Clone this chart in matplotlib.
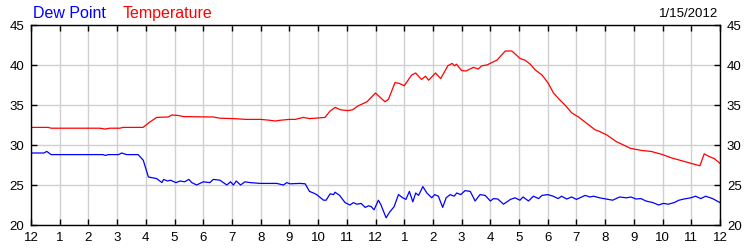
import matplotlib
matplotlib.use("Agg")
import matplotlib.pyplot as plt

# hours since midnight
temp_hours = [0, 0.6, 0.7, 2.4, 2.58, 2.75, 3.1, 3.2, 3.9, 4.15, 4.38, 4.78, 4.9, 5.1, 5.33,
              6.35, 6.58, 7.05, 7.5, 8.0, 8.3, 8.5, 8.7, 9.0, 9.2, 9.49, 9.7, 9.9, 10.24,
              10.42, 10.6, 10.78, 11.04, 11.2, 11.4, 11.7, 12.0, 12.33, 12.45, 12.68, 12.83,
              13.0, 13.26, 13.4, 13.6, 13.74, 13.85, 14.09, 14.27, 14.52, 14.67, 14.75, 14.82,
              15.0, 15.15, 15.41, 15.58, 15.7, 15.88, 16.05, 16.23, 16.52, 16.75, 17.04, 17.21,
              17.39, 17.56, 17.8, 18.02, 18.2, 18.43, 18.6, 18.84, 19.07, 19.36, 19.65, 19.8,
              20.06, 20.4, 20.64, 20.87, 21.0, 21.3, 21.6, 22.0, 22.3, 22.6, 22.9, 23.1, 23.3,
              23.45, 23.6, 23.8, 23.9, 24.0]
temperature = [32.2, 32.2, 32.1, 32.1, 32.0, 32.1, 32.1, 32.2, 32.2, 32.9, 33.45, 33.5, 33.75, 33.7, 33.55,
               33.5, 33.35, 33.3, 33.2, 33.2, 33.1, 33.0, 33.1, 33.2, 33.2, 33.45, 33.3, 33.35, 33.45,
               34.25, 34.7, 34.4, 34.3, 34.4, 34.9, 35.4, 36.5, 35.4, 35.7, 37.8, 37.7,
               37.4, 38.75, 39.0, 38.2, 38.6, 38.1, 39.0, 38.3, 39.9, 40.2, 39.9, 40.1,
               39.3, 39.25, 39.7, 39.5, 39.9, 40.0, 40.3, 40.6, 41.75, 41.75, 40.8, 40.6,
               40.1, 39.4, 38.75, 37.7, 36.5, 35.6, 35.0, 34.0, 33.5, 32.7, 31.9, 31.7,
               31.25, 30.4, 30.0, 29.6, 29.5, 29.3, 29.2, 28.8, 28.4, 28.1, 27.8, 27.6, 27.4,
               28.9, 28.6, 28.3, 28.0, 27.7]

dew_hours = [0, 0.45, 0.55, 0.7, 2.5, 2.6, 2.7, 3.05, 3.16, 3.33, 3.73, 3.91, 4.09, 4.38, 4.56,
             4.62, 4.75, 4.86, 5.05, 5.2, 5.35, 5.5, 5.6, 5.77, 6.0, 6.23, 6.35, 6.58, 6.82,
             6.95, 7.05, 7.15, 7.3, 7.45, 7.63, 7.98, 8.56, 8.79, 8.91, 9.02, 9.37, 9.55, 9.70,
             9.84, 9.95, 10.19, 10.28, 10.42, 10.54, 10.59, 10.75, 10.94, 11.11, 11.23, 11.35,
             11.5, 11.64, 11.76, 11.85, 11.95, 12.1, 12.18, 12.37, 12.49, 12.65, 12.8, 12.95,
             13.06, 13.18, 13.3, 13.4, 13.5, 13.65, 13.79, 13.96, 14.06, 14.19, 14.34, 14.46,
             14.6, 14.74, 14.83, 14.97, 15.12, 15.3, 15.47, 15.64, 15.82, 16.0, 16.11, 16.26,
             16.46, 16.7, 16.86, 17.03, 17.14, 17.33, 17.5, 17.68, 17.8, 18.0, 18.19, 18.36,
             18.48, 18.66, 18.83, 19.0, 19.3, 19.47, 19.6, 19.8, 20.03, 20.26, 20.5, 20.74,
             20.9, 21.07, 21.25, 21.42, 21.66, 21.86, 22.03, 22.2, 22.4, 22.57, 22.75, 22.98,
             23.15, 23.33, 23.5, 23.74, 23.95, 24.0]
dew_point = [29.0, 29.0, 29.2, 28.8, 28.8, 28.7, 28.8, 28.8, 29.0, 28.8, 28.8, 28.1, 26.0, 25.8, 25.3,
             25.7, 25.5, 25.6, 25.3, 25.5, 25.4, 25.7, 25.3, 25.0, 25.4, 25.3, 25.7, 25.6, 25.0,
             25.4, 25.0, 25.5, 25.0, 25.4, 25.3, 25.2, 25.2, 25.0, 25.3, 25.15, 25.2, 25.15, 24.2,
             24.0, 23.8, 23.1, 23.1, 23.9, 23.8, 24.1, 23.7, 22.8, 22.5, 22.8, 22.6,
             22.7, 22.2, 22.4, 22.3, 21.9, 23.1, 22.6, 20.9, 21.6, 22.3, 23.8, 23.4,
             23.2, 24.2, 22.9, 24.0, 23.7, 24.8, 24.0, 23.4, 23.8, 23.6, 22.2, 23.4,
             23.8, 23.6, 24.0, 23.8, 24.3, 24.2, 23.0, 23.8, 23.7, 23.0, 23.3, 23.25,
             22.6, 23.2, 23.4, 23.1, 23.5, 23.0, 23.6, 23.3, 23.7, 23.8, 23.6, 23.3,
             23.6, 23.25, 23.5, 23.2, 23.7, 23.5, 23.6, 23.4, 23.25, 23.1, 23.5, 23.4,
             23.5, 23.25, 23.3, 23.0, 22.8, 22.5, 22.7, 22.6, 22.8, 23.1, 23.25, 23.4,
             23.6, 23.3, 23.6, 23.3, 22.9, 22.8]

hour_labels = ["12"] + [str(h) for h in range(1, 12)] + ["12"] + [str(h) for h in range(1, 12)] + ["12"]
y_ticks = [20, 25, 30, 35, 40, 45]
date_text = "1/15/2012"

plt.rcParams["font.family"] = ["Liberation Sans", "DejaVu Sans"]

fig = plt.figure(figsize=(7.5, 2.5), dpi=100)
ax = fig.add_axes([31 / 750, 25 / 250, 689 / 750, 200 / 250])

ax.plot(temp_hours, temperature, color="#ff0000", lw=0.9)
ax.plot(dew_hours, dew_point, color="#0000ff", lw=0.9)

ax.set_xlim(0, 24)
ax.set_ylim(20, 45)
ax.set_xticks(range(25))
ax.set_xticklabels(hour_labels)
ax.set_yticks(y_ticks)
ax.grid(True, color="#d0d0d0", lw=1)
ax.set_axisbelow(True)
ax.tick_params(direction="in", length=4, width=1, color="black", labelsize=9.5,
               top=True, right=True, labelright=True, pad=5)
for s in ax.spines.values():
    s.set_linewidth(1)

fig.text(33 / 750, 1 - 18 / 250, "Dew Point", color="#0000ff", fontsize=11.5, va="baseline")
fig.text(123 / 750, 1 - 18 / 250, "Temperature", color="#ff0000", fontsize=11.5, va="baseline")
fig.text(718 / 750, 1 - 17 / 250, date_text, color="black", fontsize=9.5, ha="right", va="baseline")

fig.savefig("out.png", dpi=100)
